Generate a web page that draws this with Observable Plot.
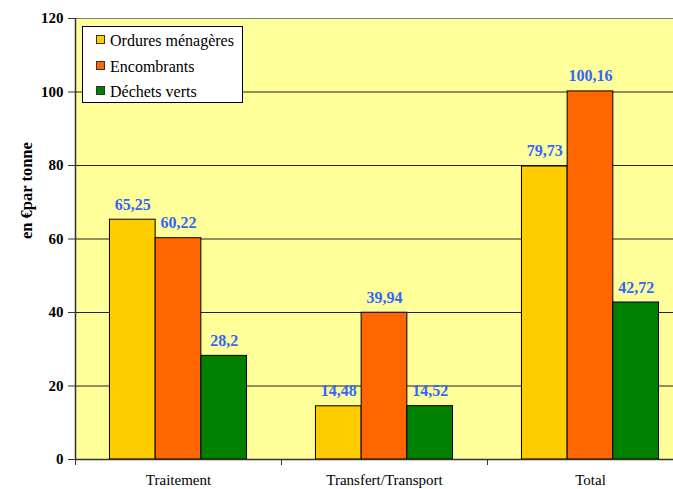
<!DOCTYPE html>
<html>
<head>
<meta charset="utf-8">
<script src="https://cdn.jsdelivr.net/npm/d3@7"></script>
<script src="https://cdn.jsdelivr.net/npm/@observablehq/plot@0.6"></script>
<style>
  html, body { margin: 0; padding: 0; background: #fff; }
  #wrap { position: relative; width: 673px; height: 489px; overflow: hidden; font-family: "Liberation Serif", "Times New Roman", serif; }
  #legend { position: absolute; left: 82px; top: 26px; width: 159px; height: 75px; background: #fff; border: 1px solid #000; box-sizing: content-box; }
  .item { position: absolute; left: 13px; font-size: 16px; line-height: 18px; color: #000; white-space: nowrap; font-family: "Liberation Serif", serif; }
  .sw { display: inline-block; width: 7px; height: 7px; border: 1px solid #333; margin-right: 5px; vertical-align: 2px; }
</style>
</head>
<body>
<div id="wrap"><div id="chart"></div><div id="legend"></div></div>
<script>
const categories = ["Traitement", "Transfert/Transport", "Total"];
const series = ["Ordures ménagères", "Encombrants", "Déchets verts"];
const ordures = [65.25, 14.48, 79.73];
const encombrants = [60.22, 39.94, 100.16];
const dechets = [28.2, 14.52, 42.72];
const yTicks = [0, 20, 40, 60, 80, 100, 120];
const colors = ["#ffcc00", "#ff6600", "#008000"];

const valuesBySeries = [ordures, encombrants, dechets];
const data = [];
categories.forEach((c, i) => {
  series.forEach((s, j) => {
    data.push({ category: c, ci: i, series: s, sj: j, value: valuesBySeries[j][i] });
  });
});

const w = 0.2218; // bar width as fraction of category band
const x1 = d => d.ci + 0.5 + (d.sj - 1.5) * w;
const x2 = d => x1(d) + w;
const xc = d => x1(d) + w / 2;
const fmt = v => String(v).replace(".", ",");

const plot = Plot.plot({
  width: 673,
  height: 489,
  marginLeft: 75,
  marginRight: 0,
  marginTop: 18,
  marginBottom: 30,
  style: { fontFamily: "'Liberation Serif', 'Times New Roman', serif", background: "transparent", overflow: "visible" },
  x: { type: "linear", domain: [0, 2.903] },
  y: { domain: [0, 120] },
  color: { domain: series, range: colors },
  marks: [
    Plot.frame({ fill: "#ffff99", stroke: "#808080" }),
    Plot.ruleY(yTicks.filter(t => t > 0 && t < 120), { stroke: "#222", strokeWidth: 1 }),
    Plot.rectY(data, { x1, x2, y1: 0, y2: "value", fill: "series", stroke: "#000", strokeWidth: 1 }),
    Plot.text(data, { x: xc, y: "value", text: d => fmt(d.value), lineAnchor: "bottom", dy: -10, fill: "#3366ff", fontWeight: "bold", fontSize: 16 }),
    Plot.ruleX([0], { stroke: "#333", strokeWidth: 1.5 }),
    Plot.ruleY([0], { stroke: "#333", strokeWidth: 1.5 }),
    Plot.axisY({ ticks: yTicks, tickSize: 7, tickPadding: 5, fontSize: 15, fontWeight: "bold", label: null, stroke: "#333", fill: "#000" }),
    Plot.text(["en €par tonne"], { frameAnchor: "left", dx: -49, rotate: -90, fontWeight: "bold", fontSize: 16.5, fill: "#000" }),
    Plot.axisX({ ticks: [0, 1, 2], tickFormat: () => "", tickSize: 6, stroke: "#333", label: null }),
    Plot.axisX({ ticks: [0.5, 1.5, 2.5], tickFormat: i => categories[Math.floor(i)], tickSize: 0, tickPadding: 15, fontSize: 15, label: null, fill: "#000" })
  ]
});
document.getElementById("chart").appendChild(plot);

const legend = document.getElementById("legend");
series.forEach((s, j) => {
  const div = document.createElement("div");
  div.className = "item";
  div.style.top = (5 + j * 25.5) + "px";
  div.innerHTML = `<span class="sw" style="background:${colors[j]}"></span>${s}`;
  legend.appendChild(div);
});
</script>
</body>
</html>
